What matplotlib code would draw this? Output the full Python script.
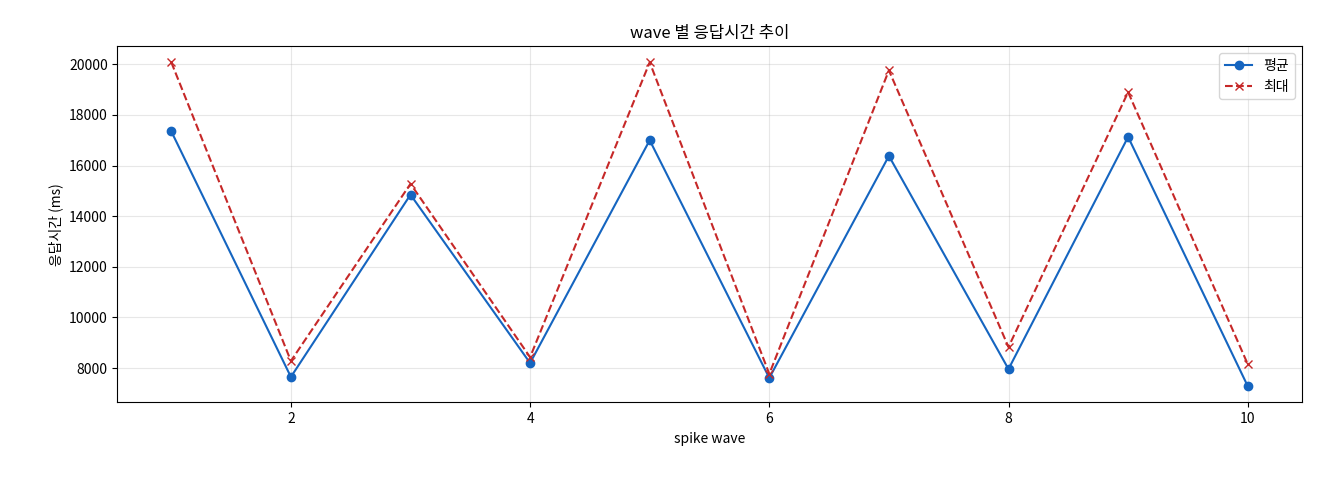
import matplotlib
matplotlib.use("Agg")
import matplotlib.pyplot as plt

plt.rcParams['font.family'] = ['Noto Sans CJK KR', 'DejaVu Sans']
plt.rcParams['axes.unicode_minus'] = False

waves = [1, 2, 3, 4, 5, 6, 7, 8, 9, 10]
avg_ms = [17350, 7650, 14850, 8200, 17000, 7610, 16380, 7960, 17130, 7290]
max_ms = [20080, 8280, 15280, 8430, 20080, 7770, 19760, 8830, 18900, 8160]

fig, ax = plt.subplots(figsize=(13.2, 4.8), dpi=100)
fig.subplots_adjust(left=0.089, right=0.986, top=0.904, bottom=0.162)
ax.plot(waves, avg_ms, marker='o', color='#1565c0', label='평균', markersize=6)
ax.plot(waves, max_ms, marker='x', linestyle='--', color='#c62828', label='최대', markersize=6)
ax.set_title('wave 별 응답시간 추이')
ax.set_xlabel('spike wave')
ax.set_ylabel('응답시간 (ms)')
ax.grid(True, alpha=0.3)
ax.legend(loc='upper right')
fig.savefig('out.png')
